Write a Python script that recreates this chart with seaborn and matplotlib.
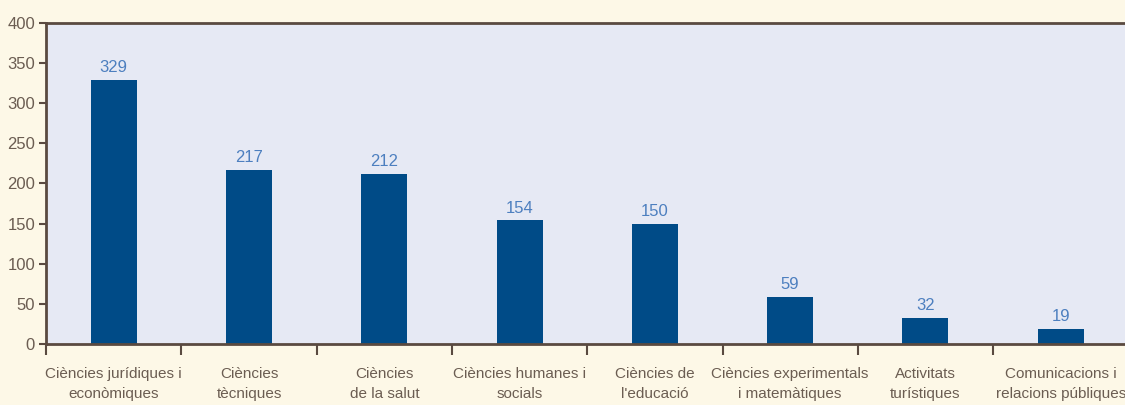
import numpy as np
import pandas as pd
import matplotlib
matplotlib.use('Agg')
import matplotlib.pyplot as plt
import seaborn as sb

categories = ['Ciències jurídiques i\neconòmiques', 'Ciències\ntècniques', 'Ciències\nde la salut',
              'Ciències humanes i\nsocials', 'Ciències de\nl\'educació', 'Ciències experimentals\ni matemàtiques',
              'Activitats\nturístiques', 'Comunicacions i\nrelacions públiques']
values = [329, 217, 212, 154, 150, 59, 32, 19]
yticks = [0, 50, 100, 150, 200, 250, 300, 350, 400]

df = pd.DataFrame({'cat': categories, 'val': values})

sb.set_style('white')
plt.rcParams['font.family'] = ['Liberation Sans Narrow', 'Liberation Sans', 'DejaVu Sans']

fig = plt.figure(figsize=(11.25, 4.05), dpi=100, facecolor='#fdf8e7')
ax = fig.add_axes([0.041, 0.151, 0.962, 0.792])
ax.set_facecolor('#e6e9f4')

sb.barplot(x='cat', y='val', data=df, color='#004b87', saturation=1, width=0.34,
           linewidth=0, ax=ax)

# value labels above bars
for i, v in enumerate(values):
    ax.text(i, v + 6, str(v), ha='center', va='bottom', color='#4d7fbf', fontsize=12)

ax.set_xlim(-0.5, 7.5)
ax.set_ylim(0, 400)
ax.set_yticks(yticks)
ax.set_yticklabels([str(t) for t in yticks], fontsize=12, color='#6b5d52')
ax.set_xticks(range(len(categories)))
ax.set_xticklabels(categories, fontsize=11, color='#6b5d52', linespacing=1.5,
                   multialignment='center')
ax.set_xticks(np.arange(-0.5, 7.5, 1), minor=True)
ax.tick_params(axis='x', which='major', bottom=True, length=0, pad=17)
ax.tick_params(axis='x', which='minor', bottom=True, length=8, width=1.5,
               color='#5a4a40', direction='out')
ax.tick_params(axis='y', left=True, length=5, width=1.5, color='#5a4a40',
               direction='out', pad=3)
ax.set_xlabel('')
ax.set_ylabel('')

for side in ['left', 'bottom', 'top']:
    ax.spines[side].set_visible(True)
    ax.spines[side].set_color('#5a4a40')
    ax.spines[side].set_linewidth(2)
ax.spines['right'].set_visible(False)

plt.savefig('out.png', dpi=100, facecolor=fig.get_facecolor())
